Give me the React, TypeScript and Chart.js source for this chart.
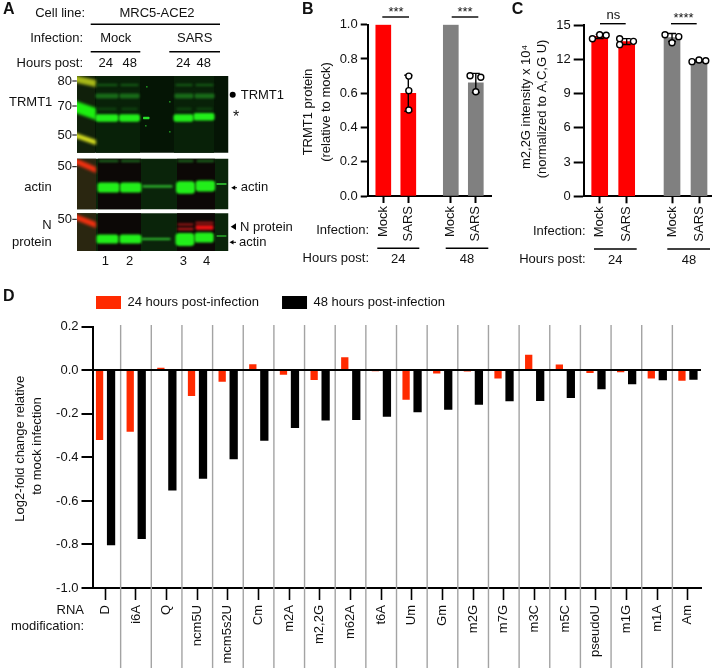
import React, { useEffect, useRef } from "react";
import { Chart, registerables } from "chart.js";

Chart.register(...registerables);

const FONT = '"Liberation Sans", Arial, Helvetica, sans-serif';
const INK = "#111111";
const RED = "#ff0000";
const GRAY = "#808080";
const D_RED = "#ff2a00";

// Panel B
const bLabels = ["Mock", "SARS", "Mock", "SARS"];
const bPositions = [1, 2, 3.7, 4.7];
const bMeans = [1.0, 0.6, 1.0, 0.66];
const bSd = [0, 0.105, 0, 0.056];
const bPointX = [2.02, 2.02, 2.02, 4.47, 4.9, 4.7];
const bPointY = [0.7, 0.615, 0.502, 0.702, 0.693, 0.609];

// Panel C
const cLabels = ["Mock", "SARS", "Mock", "SARS"];
const cPositions = [1, 2, 3.68, 4.68];
const cMeans = [14.0, 13.55, 13.9, 11.85];
const cSd = [0.18, 0.26, 0.35, 0.07];
const cPointX = [0.73, 1, 1.24, 1.74, 1.74, 2.25, 3.42, 3.93, 3.68, 4.42, 4.68, 4.93];
const cPointY = [13.8, 14.15, 14.1, 13.8, 13.28, 13.57, 14.15, 13.98, 13.45, 11.79, 11.93, 11.87];

// Panel D
const dCategories = ["D", "i6A", "Q", "ncm5U", "mcm5s2U", "Cm", "m2A", "m2,2G", "m62A", "t6A", "Um", "Gm", "m2G", "m7G", "m3C", "m5C", "pseudoU", "m1G", "m1A", "Am"];
const d24h = [-0.32, -0.282, 0.012, -0.118, -0.052, 0.028, -0.02, -0.044, 0.06, -0.004, -0.135, -0.015, -0.005, -0.037, 0.072, 0.027, -0.012, -0.009, -0.038, -0.048];
const d48h = [-0.804, -0.775, -0.552, -0.498, -0.408, -0.323, -0.265, -0.23, -0.228, -0.213, -0.193, -0.181, -0.158, -0.142, -0.141, -0.127, -0.087, -0.064, -0.046, -0.043];

type Txt = { t: string; x: number; y: number; a?: CanvasTextAlign; r?: boolean; f?: string };
type Seg = [number, number, number, number];

function drawOverlay(ctx: CanvasRenderingContext2D, texts: Txt[], segs: Seg[]) {
  ctx.save();
  ctx.strokeStyle = "#000";
  ctx.lineWidth = 1.4;
  for (const [a, b, c, d] of segs) {
    ctx.beginPath();
    ctx.moveTo(a, b);
    ctx.lineTo(c, d);
    ctx.stroke();
  }
  ctx.fillStyle = INK;
  ctx.textBaseline = "middle";
  for (const s of texts) {
    ctx.save();
    ctx.font = s.f || `13px ${FONT}`;
    ctx.textAlign = s.a || "center";
    ctx.translate(s.x, s.y);
    if (s.r) ctx.rotate(-Math.PI / 2);
    ctx.fillText(s.t, 0, 0);
    ctx.restore();
  }
  ctx.restore();
}

const LETTER = `bold 16px ${FONT}`;

function barPanelConfig(o: {
  labels: string[]; positions: number[]; means: number[]; sd: number[]; px: number[]; py: number[];
  box: { left: number; top: number; right: number; bottom: number };
  xMin: number; xMax: number; yMax: number; step: number; digits: number;
  thickness: number; yTick: number; texts: Txt[]; segs: Seg[];
}) {
  const colors = [RED, RED, GRAY, GRAY];
  const errPlugin = {
    id: "errors",
    beforeDatasetDraw(chart: any, args: any) {
      if (args.index !== 1) return;
      const { ctx, scales } = chart;
      ctx.save();
      ctx.strokeStyle = "#000";
      ctx.lineWidth = 1.4;
      o.positions.forEach((p, i) => {
        if (!o.sd[i]) return;
        const x = scales.x.getPixelForValue(p);
        const hi = scales.y.getPixelForValue(o.means[i] + o.sd[i]);
        const lo = scales.y.getPixelForValue(o.means[i] - o.sd[i]);
        ctx.beginPath();
        ctx.moveTo(x, hi); ctx.lineTo(x, lo);
        ctx.moveTo(x - 4, hi); ctx.lineTo(x + 4, hi);
        ctx.moveTo(x - 4, lo); ctx.lineTo(x + 4, lo);
        ctx.stroke();
      });
      ctx.restore();
    },
  };
  const overlay = { id: "overlay", afterDraw(chart: any) { drawOverlay(chart.ctx, o.texts, o.segs); } };
  return {
    type: "bar",
    data: {
      datasets: [
        {
          type: "bar", order: 2,
          data: o.positions.map((x, i) => ({ x, y: o.means[i] })),
          backgroundColor: colors, barThickness: o.thickness,
        },
        {
          type: "scatter", order: 1,
          data: o.px.map((x, i) => ({ x, y: o.py[i] })),
          backgroundColor: "#ffffff", borderColor: "#000000", borderWidth: 1.4, pointRadius: 3,
        },
      ],
    },
    options: {
      responsive: false, animation: false,
      layout: { padding: { left: 0, top: o.box.top, right: 720 - o.box.right, bottom: 0 } },
      plugins: { legend: { display: false }, tooltip: { enabled: false } },
      scales: {
        x: {
          type: "linear", offset: false, min: o.xMin, max: o.xMax,
          afterFit: (s: any) => { s.height = 671 - o.box.bottom; },
          afterBuildTicks: (s: any) => { s.ticks = o.positions.map((value) => ({ value })); },
          border: { color: "#000", width: 2 },
          grid: { offset: false, drawOnChartArea: false, tickLength: 7, tickWidth: 2, tickColor: "#000" },
          ticks: {
            autoSkip: false, maxRotation: 90, minRotation: 90, padding: 3, color: INK, font: { size: 13 },
            callback: (v: number) => o.labels[o.positions.indexOf(v)],
          },
        },
        y: {
          min: 0, max: o.yMax,
          afterFit: (s: any) => { s.width = o.box.left; },
          border: { color: "#000", width: 2 },
          grid: { drawOnChartArea: false, tickLength: o.yTick, tickWidth: 2, tickColor: "#000" },
          ticks: {
            stepSize: o.step, padding: 3, color: INK, font: { size: 13 },
            callback: (v: number) => Number(v).toFixed(o.digits),
          },
        },
      },
    },
    plugins: [errPlugin, overlay],
  };
}

const bConfig = () => barPanelConfig({
  labels: bLabels, positions: bPositions, means: bMeans, sd: bSd, px: bPointX, py: bPointY,
  box: { left: 367.7, top: 24.7, right: 491.7, bottom: 196 },
  xMin: 0.376, xMax: 5.336, yMax: 1, step: 0.2, digits: 1, thickness: 15, yTick: 7,
  texts: [
    { t: "B", x: 302, y: 10, a: "left", f: LETTER },
    { t: "***", x: 396, y: 12 },
    { t: "***", x: 465, y: 12 },
    { t: "TRMT1 protein", x: 308, y: 112, r: true },
    { t: "(relative to mock)", x: 326.7, y: 112, r: true },
    { t: "Infection:", x: 369, y: 230, a: "right" },
    { t: "Hours post:", x: 369, y: 258, a: "right" },
    { t: "24", x: 398.3, y: 259 },
    { t: "48", x: 467, y: 259 },
  ],
  segs: [[382.3, 17, 409, 17], [451.7, 17, 478.3, 17], [377.3, 248.3, 419.3, 248.3], [445.7, 248.3, 488.3, 248.3]],
});

const cConfig = () => barPanelConfig({
  labels: cLabels, positions: cPositions, means: cMeans, sd: cSd, px: cPointX, py: cPointY,
  box: { left: 583.7, top: 25, right: 711.7, bottom: 196.3 },
  xMin: 0.407, xMax: 5.15, yMax: 15, step: 3, digits: 0, thickness: 16, yTick: 10,
  texts: [
    { t: "C", x: 511.7, y: 10, a: "left", f: LETTER },
    { t: "ns", x: 613.3, y: 15 },
    { t: "****", x: 683.5, y: 18.5 },
    { t: "m2,2G intensity x 10\u2074", x: 526.7, y: 107, r: true },
    { t: "(normalized to A,C,G U)", x: 542.3, y: 109, r: true },
    { t: "Infection:", x: 585.7, y: 231, a: "right" },
    { t: "Hours post:", x: 585.7, y: 259, a: "right" },
    { t: "24", x: 615.3, y: 260 },
    { t: "48", x: 689, y: 260 },
  ],
  segs: [[600, 23.7, 625.7, 23.7], [671, 23.7, 696.7, 23.7], [594, 249, 636.7, 249], [667.3, 249, 710, 249]],
});

function dConfig() {
  const idx = dCategories.map((_, i) => i);
  const texts: Txt[] = [
    { t: "D", x: 3, y: 297, a: "left", f: LETTER },
    { t: "Log2-fold change relative", x: 20.7, y: 448.7, r: true },
    { t: "to mock infection", x: 37.3, y: 446, r: true },
    { t: "RNA", x: 84, y: 610, a: "right" },
    { t: "modification:", x: 84, y: 626, a: "right" },
  ];
  return {
    type: "bar",
    data: {
      datasets: [
        {
          label: "24 hours post-infection",
          data: idx.map((i) => ({ x: i, y: d24h[i] })),
          backgroundColor: D_RED, barPercentage: 0.635, categoryPercentage: 0.75,
        },
        {
          label: "48 hours post-infection",
          data: idx.map((i) => ({ x: i, y: d48h[i] })),
          backgroundColor: "#000000", barPercentage: 0.72, categoryPercentage: 0.75,
        },
      ],
    },
    options: {
      responsive: false, animation: false,
      layout: { padding: { left: 0, top: 326.8, right: 19, bottom: 0 } },
      plugins: {
        tooltip: { enabled: false },
        legend: {
          position: "top", align: "start",
          labels: { boxWidth: 25, boxHeight: 13, padding: 23, color: INK, font: { size: 13 } },
        },
      },
      scales: {
        x: {
          type: "linear", offset: false, min: -0.418, max: 19.434,
          afterFit: (s: any) => { s.height = 671 - 588; },
          afterBuildTicks: (s: any) => { s.ticks = idx.map((value) => ({ value })); },
          border: { color: "#000", width: 2 },
          grid: { offset: false, drawOnChartArea: false, tickLength: 12, tickWidth: 1.6, tickColor: "#000" },
          ticks: {
            autoSkip: false, maxRotation: 90, minRotation: 90, padding: 5, color: INK, font: { size: 13 },
            callback: (v: number) => dCategories[v],
          },
        },
        y: {
          min: -1, max: 0.2,
          afterFit: (s: any) => { s.width = 92.5; },
          border: { color: "#000", width: 2, z: 2 },
          grid: {
            z: 1,
            color: (c: any) => (c.tick && Math.abs(c.tick.value) < 1e-9 ? "#000" : "rgba(0,0,0,0)"),
            lineWidth: 2, tickLength: 11, tickWidth: 2, tickColor: "#000",
          },
          ticks: {
            stepSize: 0.2, padding: 3, color: INK, font: { size: 13 },
            callback: (v: number) => (Math.abs(v) < 1e-9 ? "0.0" : Number(v).toFixed(1)),
          },
        },
      },
    },
    plugins: [
      {
        id: "legendPlace",
        beforeInit(chart: any) {
          const fit = chart.legend.fit;
          chart.legend.fit = function () { fit.call(this); this.height = 0; };
        },
        afterLayout(chart: any) {
          chart.legend.left = 73;
          chart.legend.top = 296 - 23;
        },
      },
      {
        id: "separators",
        beforeDatasetsDraw(chart: any) {
          const { ctx, scales } = chart;
          ctx.save();
          ctx.strokeStyle = "#a3a3a3";
          ctx.lineWidth = 1.4;
          for (let i = 0; i < dCategories.length - 1; i++) {
            const x = scales.x.getPixelForValue(i + 0.5);
            ctx.beginPath();
            ctx.moveTo(x, 325);
            ctx.lineTo(x, 668);
            ctx.stroke();
          }
          ctx.restore();
        },
      },
      { id: "overlay", afterDraw(chart: any) { drawOverlay(chart.ctx, texts, []); } },
    ],
  };
}

function drawBlots(ctx: CanvasRenderingContext2D) {
  const L = 77, R = 228.5;
  const blot = (top: number, bottom: number, body: () => void) => {
    ctx.save();
    ctx.beginPath();
    ctx.rect(L, top, R - L, bottom - top);
    ctx.clip();
    body();
    ctx.restore();
  };
  const band = (x0: number, x1: number, y: number, h: number, color: string, blur = 0.9) => {
    ctx.save();
    ctx.filter = `blur(${blur}px)`;
    ctx.fillStyle = color;
    ctx.beginPath();
    (ctx as any).roundRect(x0 - 0.5, y - h / 2, x1 - x0 + 1, h, h / 3.5);
    ctx.fill();
    ctx.restore();
  };
  const slant = (y0: number, y1: number, h: number, color: string, blur = 1.4) => {
    ctx.save();
    ctx.filter = `blur(${blur}px)`;
    ctx.fillStyle = color;
    ctx.beginPath();
    ctx.moveTo(L - 4, y0);
    ctx.lineTo(L + 19, y1);
    ctx.lineTo(L + 19, y1 + h);
    ctx.lineTo(L - 4, y0 + h);
    ctx.closePath();
    ctx.fill();
    ctx.restore();
  };
  const GREEN = "#22ee1a";

  blot(76, 152.7, () => {
    ctx.fillStyle = "#051505";
    ctx.fillRect(L, 76, R - L, 77);
    ctx.fillStyle = "#082108";
    ctx.fillRect(96, 76, 44, 77);
    ctx.fillRect(174, 76, 40, 77);
    ctx.fillStyle = "#10200a";
    ctx.fillRect(L, 76, 18, 77);
    slant(75, 80, 7, "#a8b818");
    slant(100, 108, 12, "#1cf010", 1.8);
    slant(132, 140, 5, "#d8e020");
    for (const [a, b] of [[96, 118], [120, 139], [175, 193], [195, 214]]) {
      band(a + 1, b - 1, 85, 2.5, "#145514");
      band(a, b, 96, 5, "#186a18");
      band(a + 2, b - 2, 109, 3, "#0e3f0e");
    }
    band(96, 118, 118, 7.5, GREEN);
    band(119.5, 139.5, 118, 7.5, GREEN);
    band(143.5, 149, 118, 2.5, "#2be02b", 0.6);
    band(174, 193, 118, 7.5, GREEN);
    band(194, 214, 116.8, 7.5, GREEN);
    ctx.fillStyle = "#1c8a1c";
    for (const [x, y] of [[146, 86], [169, 101], [145, 125], [169, 131]]) ctx.fillRect(x, y, 1.6, 1.6);
  });

  blot(158.7, 209.3, () => {
    ctx.fillStyle = "#0a240a";
    ctx.fillRect(L, 158, R - L, 52);
    ctx.fillStyle = "#2a2610";
    ctx.fillRect(L, 158, 19, 52);
    ctx.fillStyle = "#0c0806";
    ctx.fillRect(98, 158, 43, 52);
    ctx.fillRect(177, 158, 38, 52);
    slant(157, 167, 6, "#f03010");
    for (const [a, b] of [[98, 119], [120.5, 141], [177, 194], [196, 214.7]]) band(a + 1, b - 1, 161, 2.5, "#1a601a");
    band(143, 172, 186.3, 2.2, "#30c030", 0.8);
    band(217, 226, 184, 1.8, "#2aa82a", 0.6);
    band(98, 119, 187.5, 10, GREEN);
    band(120.5, 141, 187.5, 10, GREEN);
    band(176.5, 194.5, 187.5, 12.5, GREEN);
    band(196, 214.7, 186, 11, GREEN);
  });

  blot(213.3, 251, () => {
    ctx.fillStyle = "#0a240a";
    ctx.fillRect(L, 213, R - L, 39);
    ctx.fillStyle = "#2a2610";
    ctx.fillRect(L, 213, 19, 39);
    ctx.fillStyle = "#0c0806";
    ctx.fillRect(98, 213, 43, 39);
    ctx.fillRect(177, 213, 38, 39);
    slant(213, 222, 6, "#f03010");
    band(178, 193, 224.5, 2.5, "#8a1414");
    band(178, 193, 229, 2.5, "#b01818");
    band(196, 213, 223, 3, "#8a1414");
    band(196, 213, 227.5, 5, "#e01212");
    band(142, 170, 239, 2.2, "#30c030", 0.8);
    band(217, 226, 236, 1.6, "#2aa82a", 0.6);
    band(97, 118, 239, 9, GREEN);
    band(120, 141, 239, 9, GREEN);
    band(176, 194, 239.5, 13, GREEN);
    band(195, 213.3, 237.5, 10, GREEN);
  });

  // Arrows and markers beside the blots
  ctx.save();
  ctx.fillStyle = "#000";
  ctx.beginPath();
  ctx.arc(232.7, 94.7, 3, 0, Math.PI * 2);
  ctx.fill();
  const arrow = (x0: number, x1: number, y: number) => {
    ctx.fillRect(x0 + 2, y - 0.5, x1 - x0 - 2, 1);
    ctx.beginPath();
    ctx.moveTo(x0 - 0.5, y);
    ctx.lineTo(x0 + 3.5, y - 2.2);
    ctx.lineTo(x0 + 3.5, y + 2.2);
    ctx.fill();
  };
  arrow(231.7, 237, 187.7);
  arrow(230, 236, 242.3);
  ctx.beginPath();
  ctx.moveTo(230.7, 226.7);
  ctx.lineTo(236, 223.3);
  ctx.lineTo(236, 230);
  ctx.fill();
  ctx.fillRect(72.3, 80.5, 4.5, 1);
  ctx.fillRect(72.3, 105.5, 4.5, 1);
  ctx.fillRect(72.3, 134.5, 4.5, 1);
  ctx.fillRect(72.3, 166.2, 4.5, 1);
  ctx.fillRect(72.3, 218.8, 4.5, 1);
  ctx.restore();
}

const aTexts: Txt[] = [
  { t: "A", x: 3, y: 10, a: "left", f: LETTER },
  { t: "Cell line:", x: 85, y: 13, a: "right" },
  { t: "MRC5-ACE2", x: 157, y: 13 },
  { t: "Infection:", x: 83, y: 38, a: "right" },
  { t: "Mock", x: 115.7, y: 38 },
  { t: "SARS", x: 194.7, y: 38 },
  { t: "Hours post:", x: 83, y: 63.5, a: "right" },
  { t: "24", x: 105.7, y: 63.5 },
  { t: "48", x: 129.7, y: 63.5 },
  { t: "24", x: 183.3, y: 63.5 },
  { t: "48", x: 203.7, y: 63.5 },
  { t: "80", x: 72, y: 81, a: "right" },
  { t: "70", x: 72, y: 106, a: "right" },
  { t: "50", x: 72, y: 135, a: "right" },
  { t: "TRMT1", x: 52.3, y: 102.3, a: "right" },
  { t: "TRMT1", x: 240.7, y: 95, a: "left" },
  { t: "*", x: 236, y: 118, f: `16px ${FONT}` },
  { t: "50", x: 72, y: 166.7, a: "right" },
  { t: "actin", x: 51.7, y: 187, a: "right" },
  { t: "actin", x: 240.7, y: 187.7, a: "left" },
  { t: "50", x: 72, y: 219.3, a: "right" },
  { t: "N", x: 51.7, y: 225.7, a: "right" },
  { t: "protein", x: 51.7, y: 242, a: "right" },
  { t: "N protein", x: 240, y: 227, a: "left" },
  { t: "actin", x: 239, y: 242.3, a: "left" },
  { t: "1", x: 105.3, y: 261 },
  { t: "2", x: 129.7, y: 261 },
  { t: "3", x: 183.3, y: 261 },
  { t: "4", x: 206.7, y: 261 },
];
const aSegs: Seg[] = [
  [90.7, 24.3, 220, 24.3],
  [90.7, 51.7, 140.3, 51.7],
  [169.3, 51.7, 220, 51.7],
];

function aConfig() {
  return {
    type: "scatter",
    data: { datasets: [] },
    options: {
      responsive: false, animation: false,
      plugins: { legend: { display: false }, tooltip: { enabled: false } },
      scales: { x: { display: false }, y: { display: false } },
    },
    plugins: [
      {
        id: "blots",
        afterDraw(chart: any) {
          drawBlots(chart.ctx);
          drawOverlay(chart.ctx, aTexts, aSegs);
        },
      },
    ],
  };
}

function Panel({ make }: { make: () => any }) {
  const ref = useRef<HTMLCanvasElement>(null);
  useEffect(() => {
    Chart.defaults.font.family = FONT;
    Chart.defaults.font.size = 13;
    Chart.defaults.color = INK;
    const chart = new Chart(ref.current as HTMLCanvasElement, make());
    return () => chart.destroy();
  }, [make]);
  return <canvas ref={ref} width={720} height={671} style={{ position: "absolute", left: 0, top: 0, width: 720, height: 671 }} />;
}

export default function App() {
  return (
    <div style={{ position: "absolute", left: 0, top: 0, width: 720, height: 671, overflow: "hidden", background: "#fff" }}>
      <Panel make={aConfig} />
      <Panel make={bConfig} />
      <Panel make={cConfig} />
      <Panel make={dConfig} />
    </div>
  );
}
